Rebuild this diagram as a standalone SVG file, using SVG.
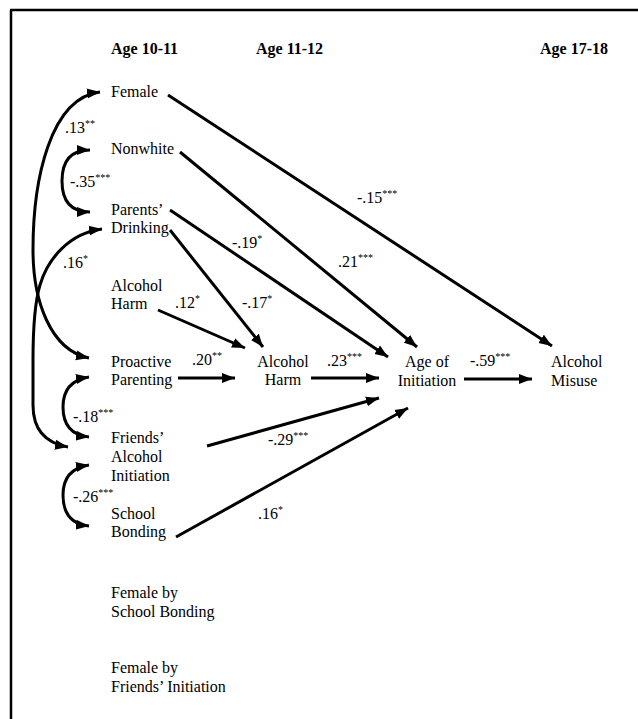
<svg xmlns="http://www.w3.org/2000/svg" width="638" height="719" viewBox="0 0 638 719" font-family="'Liberation Serif','Times New Roman',serif">
<style>
text{font-family:"Liberation Serif","Times New Roman",serif;font-size:16px;fill:#000}
.h{font-weight:bold}
.m{text-anchor:middle}
.s{font-size:10px}
.c{fill:none;stroke:#000;stroke-width:3}
</style>
<defs>
<marker id="ah" markerUnits="userSpaceOnUse" markerWidth="14" markerHeight="11" refX="13" refY="5.5" orient="auto-start-reverse">
<path d="M0,0.5 L13,5.5 L0,10.5 Z" fill="#000"/>
</marker>
</defs>
<rect width="638" height="719" fill="#fff"/>
<g id="frame" stroke="#000" stroke-width="2.5">
<line x1="10" y1="10" x2="638" y2="10"/>
<line x1="11" y1="10" x2="11" y2="719"/>
</g>
<g id="headers">
<text class="h" x="111" y="54">Age 10-11</text>
<text class="h" x="256" y="54">Age 11-12</text>
<text class="h" x="540" y="54">Age 17-18</text>
</g>
<g id="n-female"><text x="111" y="97">Female</text></g>
<g id="n-nonwhite"><text x="111" y="154">Nonwhite</text></g>
<g id="n-parents"><text x="111" y="215">Parents’</text><text x="111" y="233">Drinking</text></g>
<g id="n-harm1"><text x="111" y="291">Alcohol</text><text x="111" y="309">Harm</text></g>
<g id="n-proactive"><text x="111" y="367">Proactive</text><text x="111" y="385">Parenting</text></g>
<g id="n-friends"><text x="111" y="443">Friends’</text><text x="111" y="462">Alcohol</text><text x="111" y="481">Initiation</text></g>
<g id="n-school"><text x="111" y="519">School</text><text x="111" y="537">Bonding</text></g>
<g id="n-fxs"><text x="111" y="598">Female by</text><text x="111" y="617">School Bonding</text></g>
<g id="n-fxf"><text x="111" y="673">Female by</text><text x="111" y="692">Friends’ Initiation</text></g>
<g id="n-harm2"><text class="m" x="283" y="367">Alcohol</text><text class="m" x="283" y="385">Harm</text></g>
<g id="n-age"><text class="m" x="427" y="367">Age of</text><text class="m" x="427" y="386">Initiation</text></g>
<g id="n-misuse"><text x="551" y="367">Alcohol</text><text x="551" y="386">Misuse</text></g>
<g id="connectors" class="c">
<path class="c" marker-end="url(#ah)" d="M168,95 L552,346"/>
<path class="c" marker-end="url(#ah)" d="M180,152 L417,347"/>
<path class="c" marker-end="url(#ah)" d="M170,210 L388,357"/>
<path class="c" marker-end="url(#ah)" d="M170,230 L263,347"/>
<path class="c" marker-end="url(#ah)" d="M158,310 L245,348"/>
<path class="c" marker-end="url(#ah)" d="M178,378 L235,378"/>
<path class="c" marker-end="url(#ah)" d="M311,378 L379,378"/>
<path class="c" marker-end="url(#ah)" d="M464,379 L532,379"/>
<path class="c" marker-end="url(#ah)" d="M207,446 L379,398"/>
<path class="c" marker-end="url(#ah)" d="M176,537 L408,408"/>
<path class="c" marker-start="url(#ah)" marker-end="url(#ah)" d="M100,92 C50,98 33,180 33,250 C33,300 50,350 89,358"/>
<path class="c" marker-start="url(#ah)" marker-end="url(#ah)" d="M102,229 C70,233 48,258 40,285 C34,305 33,330 33,360 L33,405 C33,430 45,443 68,447"/>
<path class="c" marker-start="url(#ah)" marker-end="url(#ah)" d="M90,150 C68,150 62,165 62,181 C62,198 68,212 90,212"/>
<path class="c" marker-start="url(#ah)" marker-end="url(#ah)" d="M89,377 C70,380 63,392 63,407 C63,424 70,435 89,437"/>
<path class="c" marker-start="url(#ah)" marker-end="url(#ah)" d="M89,465 C70,468 63,480 63,495 C63,512 70,524 89,526"/>
</g>
<g id="labels">
<text x="65" y="133">.13<tspan class="s" dy="-6">**</tspan></text>
<text x="70" y="187">-.35<tspan class="s" dy="-6">***</tspan></text>
<text x="232" y="248">-.19<tspan class="s" dy="-6">*</tspan></text>
<text x="63" y="268">.16<tspan class="s" dy="-6">*</tspan></text>
<text x="175" y="308">.12<tspan class="s" dy="-6">*</tspan></text>
<text x="242" y="308">-.17<tspan class="s" dy="-6">*</tspan></text>
<text x="192" y="365">.20<tspan class="s" dy="-6">**</tspan></text>
<text x="73" y="422">-.18<tspan class="s" dy="-6">***</tspan></text>
<text x="268" y="445">-.29<tspan class="s" dy="-6">***</tspan></text>
<text x="73" y="502">-.26<tspan class="s" dy="-6">***</tspan></text>
<text x="258" y="519">.16<tspan class="s" dy="-6">*</tspan></text>
<text x="357" y="203">-.15<tspan class="s" dy="-6">***</tspan></text>
<text x="338" y="267">.21<tspan class="s" dy="-6">***</tspan></text>
<text x="327" y="366">.23<tspan class="s" dy="-6">***</tspan></text>
<text x="470" y="366">-.59<tspan class="s" dy="-6">***</tspan></text>
</g>
</svg>
